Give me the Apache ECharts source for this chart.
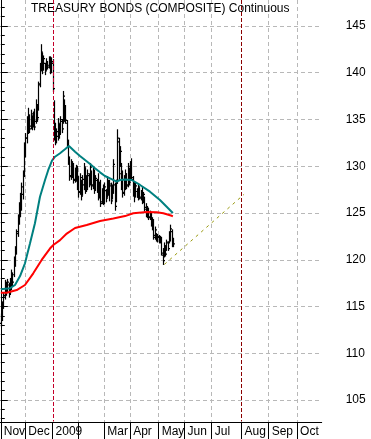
<!DOCTYPE html>
<html><head><meta charset="utf-8">
<script src="https://cdn.jsdelivr.net/npm/echarts@6/dist/echarts.min.js"></script>
<style>html,body{margin:0;padding:0;background:#fff}#c{width:371px;height:439px}</style>
</head><body><div id="c"></div>
<script>
// Trading-day index of each month start (Nov 2008 = 0)
const monthStarts = [0, 19, 40, 60, 80, 100, 122, 142, 163, 186, 207, 229];
const monthLabels = ['Nov', 'Dec', '2009', '', 'Mar', 'Apr', 'May', 'Jun', 'Jul', 'Aug', 'Sep', 'Oct'];
// gray dashed month grid lines (Jan and Aug carry the red markers instead)
const gridMonths = [19, 60, 80, 100, 122, 142, 163, 207, 229];
const priceTicks = [105, 110, 115, 120, 125, 130, 135, 140, 145];
const minorTicks = [103, 104, 106, 107, 108, 109, 111, 112, 113, 114, 116, 117, 118, 119, 121, 122, 123, 124,
  126, 127, 128, 129, 131, 132, 133, 134, 136, 137, 138, 139, 141, 142, 143, 144, 146, 147];
const redLineMonths = ['2009', 'Aug'];

const opens = [113.2,113.8,115.0,116.0,117.2,116.7,117.3,116.5,117.2,118.3,
  118.4,119.6,120.9,123.0,124.0,125.0,125.8,127.0,129.2,131.5,
  133.0,134.0,135.0,134.3,135.0,134.5,135.2,134.8,136.0,136.3,
  138.8,140.5,141.8,140.5,141.0,140.5,141.0,140.8,141.3,140.3,
  141.0,136.5,133.5,132.8,133.2,134.2,133.7,134.8,134.8,137.0,
  135.8,134.6,132.5,130.6,129.0,130.0,129.5,128.6,129.3,129.5,
  128.0,127.3,128.2,127.0,128.0,129.5,127.5,128.5,129.0,128.3,
  129.4,128.0,129.2,127.6,128.5,127.8,126.8,128.1,126.2,127.4,
  126.3,127.4,126.9,128.3,127.0,127.9,126.6,127.5,128.0,126.4,
  128.5,132.6,130.4,130.0,128.0,127.1,127.8,129.0,128.0,129.7,
  128.7,130.0,128.6,127.0,127.0,127.3,126.7,127.5,126.6,127.4,
  126.3,126.5,125.6,124.8,125.3,124.6,124.8,123.9,123.8,122.6,
  122.7,122.2,122.4,122.0,122.2,120.5,120.4,121.2,121.2,121.8,
  121.9,122.6,123.0,121.8];
const highs = [114.2,115.5,116.5,117.8,117.6,117.9,117.5,118.0,118.9,118.6,
  120.3,121.4,123.2,124.8,126.1,127.1,128.2,129.5,132.5,133.5,
  135.3,136.2,135.5,136.0,135.4,135.8,136.1,137.1,136.5,139.0,
  141.0,143.0,142.1,141.8,141.0,141.5,141.2,141.7,141.7,141.6,
  141.4,137.0,134.6,134.0,135.1,134.5,135.3,135.0,138.0,137.1,
  136.5,134.9,132.8,131.0,130.7,130.5,130.3,129.8,130.1,130.0,
  128.9,129.2,128.5,129.0,130.3,129.8,129.0,129.6,129.2,130.3,
  129.5,129.8,129.6,129.0,128.6,129.2,128.3,128.5,127.6,128.0,
  128.2,127.5,128.9,128.4,128.5,128.2,128.0,130.7,128.2,128.5,
  133.9,133.0,132.1,130.3,129.5,129.0,129.6,129.2,130.3,129.8,
  130.5,130.8,128.9,128.3,128.2,127.6,128.0,127.7,127.4,127.8,
  127.2,126.7,126.0,125.7,125.5,125.2,125.0,124.5,124.3,123.5,
  122.8,122.7,122.6,122.5,122.4,121.2,121.8,121.5,122.1,121.9,
  123.0,123.7,123.2,122.3];
const lows = [112.9,113.5,114.8,115.8,116.2,116.5,116.0,116.4,116.8,117.2,
  118.2,119.3,120.6,122.5,123.8,124.6,125.3,126.5,128.9,131.0,
  132.5,133.5,133.6,134.0,133.9,134.2,133.9,134.6,134.8,136.0,
  138.5,140.2,139.9,140.3,139.8,140.3,140.4,140.5,139.9,140.0,
  138.0,132.8,132.3,132.5,132.8,133.0,133.5,133.6,134.6,134.8,
  134.6,132.1,130.2,128.5,128.6,128.8,128.2,128.3,128.4,127.5,
  126.7,127.0,126.4,126.9,127.5,127.1,127.3,127.5,127.8,128.0,
  127.5,127.6,127.1,127.4,127.2,126.4,126.6,125.7,126.0,125.9,
  126.0,126.2,126.7,126.9,126.3,126.0,126.5,127.1,125.3,126.2,
  128.2,128.5,130.0,127.5,126.7,126.9,127.5,127.6,127.8,128.0,
  128.5,128.6,126.8,126.2,126.7,126.7,126.4,126.5,126.4,126.0,
  126.1,125.2,124.6,124.5,124.3,124.3,123.6,123.2,122.2,122.2,
  122.0,121.9,121.8,121.8,120.5,119.5,120.3,120.4,121.0,121.0,
  121.8,122.0,121.4,121.4];
const closes = [114.0,115.2,116.2,117.4,116.5,117.6,116.3,117.8,118.5,117.6,
  120.0,121.0,122.8,124.3,125.8,126.6,127.8,129.0,132.0,133.0,
  134.8,135.0,134.0,135.6,134.3,135.5,134.2,136.6,135.2,138.7,
  140.6,142.2,140.3,141.5,140.2,141.2,140.6,141.5,140.2,141.2,
  138.3,133.3,132.8,133.7,134.6,133.4,135.0,134.0,137.5,135.3,
  134.9,132.5,130.5,128.9,130.2,129.2,128.5,129.5,128.8,127.8,
  127.2,128.8,126.8,128.6,129.9,127.6,128.7,129.2,128.2,129.9,
  127.9,129.4,127.5,128.7,127.6,126.7,128.0,126.0,127.3,126.2,
  127.8,126.6,128.5,127.2,128.1,126.3,127.7,130.2,125.7,128.2,
  133.0,129.2,131.6,127.9,127.2,128.7,129.2,127.9,130.0,128.3,
  130.2,128.8,127.0,128.0,127.9,126.9,127.8,126.7,127.2,126.2,
  127.0,125.4,124.9,125.5,124.5,125.0,123.8,123.5,122.4,123.2,
  122.2,122.5,121.9,122.3,120.7,119.9,121.5,120.6,121.9,121.2,
  122.8,123.3,121.7,121.7];

// Moving averages: [trading-day index, price]
const fastMA = [[0,116.84],[7.1,116.95],[11,117.3],[14.9,118.26],[18.7,119.62],[22.6,121.76],
  [26.4,123.9],[30.3,126.74],[34.2,128.53],[36.7,129.6],[39.6,130.6],[41.9,131.02],[45.8,131.39],
  [49.6,131.81],[52.7,132.17],[57.4,131.56],[61.2,131.1],[65.1,130.67],[69,130.24],[72.8,129.78],
  [76.7,129.35],[80.5,128.96],[84.4,128.71],[89.6,128.35],[92.1,128.53],[96,128.58],[101.2,128.53],
  [107.6,128.0],[115.3,127.28],[123,126.39],[128.2,125.67],[132,125.14],[133,125.0]];
const slowMA = [[0,116.48],[4.6,116.48],[12.3,116.76],[18.7,117.3],[25.1,118.55],[31.6,119.98],
  [38,121.2],[40.6,121.58],[45.8,122.1],[51,122.8],[57.4,123.4],[66.4,123.72],[76.7,124.14],
  [87,124.42],[96,124.67],[102.4,124.97],[112.7,125.1],[120.5,125.08],[125.6,124.97],[132.1,124.7],[133,124.65]];
const projection = [[126.4,119.5],[188,127.0]];

const FONT = '"Liberation Sans", Arial, sans-serif';
const GRID_GRAY = '#b8b8b8';
const bars = opens.map((o, i) => [i, o, highs[i], lows[i], closes[i]]);

const chart = echarts.init(document.getElementById('c'), null, { renderer: 'canvas' });

function redLines() {
  const top = chart.convertToPixel({ gridIndex: 0 }, [0, 147.78])[1];
  const bot = chart.convertToPixel({ gridIndex: 0 }, [0, 102.65])[1];
  return redLineMonths.map((lbl, sp) => {
    const v = monthStarts[monthLabels.indexOf(lbl)];
    const x = Math.round(chart.convertToPixel({ gridIndex: 0 }, [v, 120])[0]) + 0.5;
    return { type: 'line', z: 50, silent: true,
      shape: { x1: x, y1: top, x2: x, y2: bot - 0.5 },
      style: { stroke: sp === 0 ? '#c4002a' : '#8b0000', lineWidth: 1, lineDash: [4, 2] } };
  });
}

chart.setOption({
  animation: false,
  backgroundColor: '#fff',
  title: {
    text: 'TREASURY BONDS (COMPOSITE) Continuous',
    left: 31, top: 3, padding: 0, z: 10,
    textStyle: { fontSize: 12, fontWeight: 'normal', color: '#000', fontFamily: FONT }
  },
  grid: { left: 0, right: 49.3, top: 0, bottom: 17, containLabel: false },
  xAxis: [{
    type: 'value', min: -0.6, max: 248,
    axisLine: { show: true, lineStyle: { color: '#000', width: 1 } },
    axisTick: { show: true, customValues: monthStarts, length: 17, inside: false, lineStyle: { color: '#000' } },
    axisLabel: {
      customValues: monthStarts,
      formatter: v => { const k = monthStarts.indexOf(v); return k >= 0 ? monthLabels[k] : ''; },
      align: 'left', margin: 4, padding: [0, 0, 0, 3],
      color: '#000', fontSize: 12, fontFamily: FONT
    },
    splitLine: { show: false }
  }, {
    type: 'value', position: 'bottom', min: -0.6, max: 248,
    axisLine: { show: false },
    axisTick: { show: false, customValues: gridMonths },
    axisLabel: { show: false, customValues: gridMonths },
    splitLine: { show: true, lineStyle: { color: GRID_GRAY, width: 1, type: [4, 3] } }
  }],
  yAxis: [{
    type: 'value', position: 'right', min: 102.65, max: 147.78,
    axisLine: { show: true, lineStyle: { color: '#000' } },
    axisTick: { show: true, customValues: priceTicks, length: 7, lineStyle: { color: '#000' } },
    axisLabel: { customValues: priceTicks, margin: 24, color: '#000', fontSize: 12, fontFamily: FONT },
    splitLine: { show: true, lineStyle: { color: GRID_GRAY, width: 1, type: [4, 3] } }
  }, {
    type: 'value', position: 'right', min: 102.65, max: 147.78,
    axisLine: { show: false },
    axisTick: { show: true, customValues: minorTicks, length: 4, lineStyle: { color: '#000' } },
    axisLabel: { show: false },
    splitLine: { show: false }
  }],
  series: [
    {
      type: 'custom', z: 3, data: bars, clip: true,
      renderItem: (params, api) => {
        const x = Math.round(api.coord([api.value(0), 120])[0]) + 0.5;
        const yo = api.coord([0, api.value(1)])[1];
        const yh = api.coord([0, api.value(2)])[1];
        const yl = api.coord([0, api.value(3)])[1];
        const yc = api.coord([0, api.value(4)])[1];
        const st = { stroke: '#000', lineWidth: 1.2 };
        return { type: 'group', children: [
          { type: 'line', shape: { x1: x, y1: yh - 0.5, x2: x, y2: yl + 0.5 }, style: st },
          { type: 'line', shape: { x1: x - 1.5, y1: yo, x2: x, y2: yo }, style: st },
          { type: 'line', shape: { x1: x, y1: yc, x2: x + 1.5, y2: yc }, style: st }
        ] };
      }
    },
    {
      type: 'line', data: slowMA, z: 4, showSymbol: false, smooth: false,
      lineStyle: { color: '#ff0000', width: 2 }
    },
    {
      type: 'line', data: fastMA, z: 5, showSymbol: false, smooth: false,
      lineStyle: { color: '#008080', width: 2 }
    },
    {
      type: 'line', data: projection, z: 5, showSymbol: false,
      lineStyle: { color: '#9a9a10', width: 1, type: [3, 4] }
    }
  ]
});
chart.setOption({ graphic: redLines() });
</script>
</body></html>
